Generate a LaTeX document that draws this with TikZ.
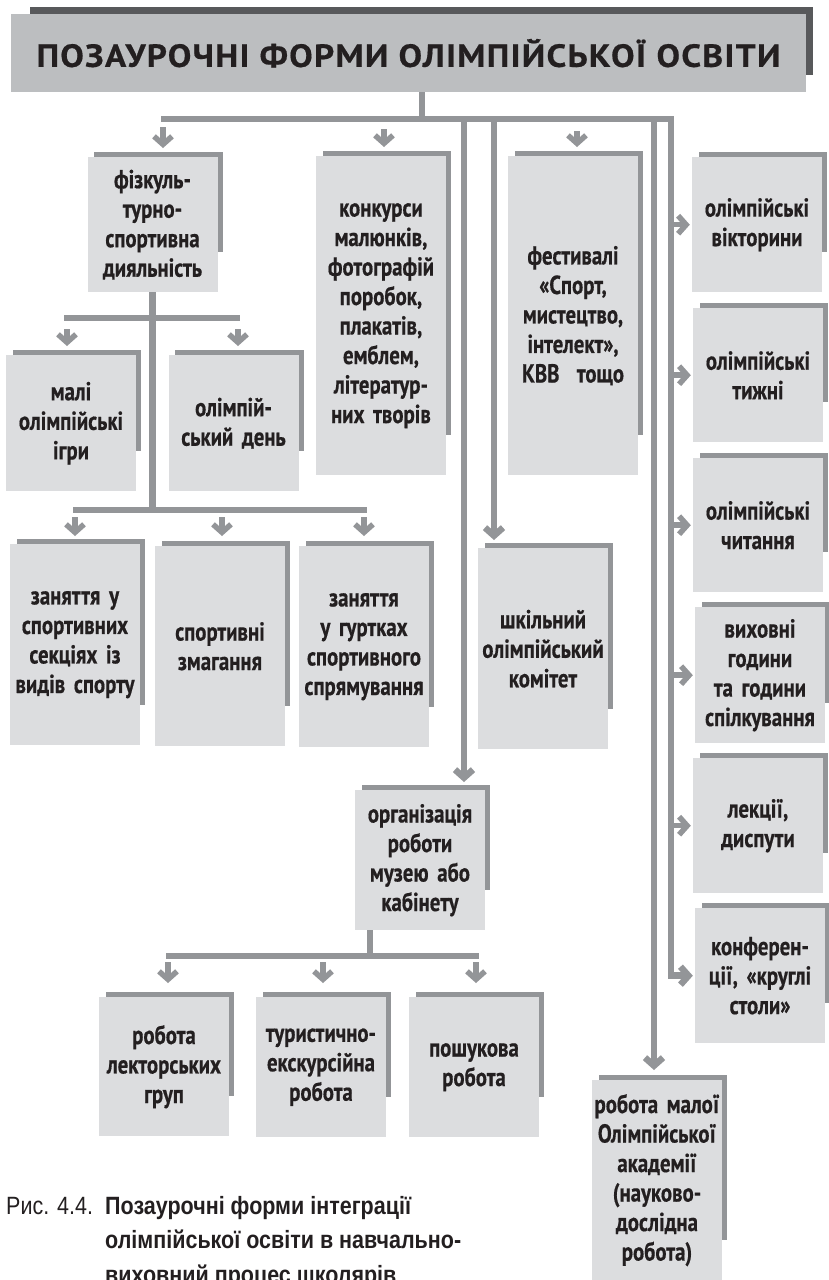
\documentclass[tikz,border=0pt]{standalone}
\usepackage{fontspec}
\newfontfamily\boxfont[FakeStretch=0.8,FakeBold=0.5]{PT Sans}
\newfontfamily\headfont[FakeStretch=1.1,LetterSpace=4,FakeBold=0.5]{PT Sans}
\newfontfamily\capfont[FakeStretch=0.86]{Liberation Sans}
\usetikzlibrary{arrows.meta,backgrounds}

\definecolor{linegray}{HTML}{939598}
\definecolor{boxgray}{HTML}{DCDDDF}
\definecolor{titlegray}{HTML}{BCBEC0}
\definecolor{titleshade}{HTML}{58595B}
\definecolor{inkgray}{HTML}{231F20}

\tikzset{
	form/.style={fill=boxgray, anchor=north, minimum width=130pt, text width=128pt, align=center, inner sep=0pt, text=inkgray, font=\boxfont\bfseries\fontsize{26}{29.5}\selectfont},
	link/.style={draw=linegray, line width=6.5pt},
	barb/.style={-{Straight Barb[length=8pt,width=18pt]}},
	tip/.style={draw=linegray, line width=5.5pt, barb},
	capline/.style={anchor=base west, inner sep=0pt, text=inkgray, font=\capfont\fontsize{25}{31}\selectfont},
}

\begin{document}
\begin{tikzpicture}[x=1pt,y=-1pt]
		\useasboundingbox (0,0) rectangle (829,1280);
		\node [fill=titlegray, anchor=north, minimum width=795pt, minimum height=78pt, text=inkgray, font=\headfont\bfseries\fontsize{32}{38}\selectfont](head) at (408.5,14) {ПОЗАУРОЧНІ ФОРМИ ОЛІМПІЙСЬКОЇ ОСВІТИ};

		% upper row
		\node [form, minimum height=135pt](fiz) at (152.5,157) {фізкуль-\\турно-\\спортивна\\дияльність};
		\node [form, minimum height=319pt](konk) at (381,156) {конкурси\\малюнків,\\фотографій\\поробок,\\плакатів,\\емблем,\\літератур-\\них творів};
		\node [form, minimum height=319pt](fest) at (573,156) {фестивалі\\«Спорт,\\мистецтво,\\інтелект»,\\КВВ\ \ тощо};

		% right column
		\node [form, minimum height=135pt](vikt) at (757,157) {олімпійські\\вікторини};
		\node [form, minimum height=134pt](tyzh) at (758,308) {олімпійські\\тижні};
		\node [form, minimum height=134pt](chyt) at (758,458) {олімпійські\\читання};
		\node [form, minimum height=136pt](vykh) at (760,607) {виховні\\години\\та години\\спілкування};
		\node [form, minimum height=135pt](lekc) at (758,758) {лекції,\\диспути};
		\node [form, minimum height=135pt](konf) at (760,908) {конферен-\\ції, «круглі\\столи»};

		% under fiz
		\node [form, minimum height=136pt](mali) at (71,355) {малі\\олімпійські\\ігри};
		\node [form, minimum height=136pt](den) at (233.5,355) {олімпій-\\ський день};
		\node [form, minimum height=201pt](sekc) at (75,544) {заняття у\\спортивних\\секціях із\\видів спорту};
		\node [form, minimum height=200pt](zmah) at (220,546) {спортивні\\змагання};
		\node [form, minimum height=201pt](hurt) at (364,546) {заняття\\у гуртках\\спортивного\\спрямування};

		\node [form, minimum height=201pt](shkil) at (543,548) {шкільний\\олімпійський\\комітет};
		\node [form, minimum height=140pt](org) at (420,790) {організація\\роботи\\музею або\\кабінету};
		\node [form, minimum height=139pt](lekt) at (164,997) {робота\\лекторських\\груп};
		\node [form, minimum height=140pt](tur) at (321,997) {туристично-\\екскурсійна\\робота};
		\node [form, minimum height=140pt](posh) at (474,997) {пошукова\\робота};
		\node [form, minimum height=200pt](akad) at (657,1080) {робота малої\\Олімпійської\\академії\\(науково-\\дослідна\\робота)};

		% shadows
		\begin{scope}[on background layer]
			\fill [titleshade]([shift={(19,-7)}]head.north west) rectangle ([shift={(7,-17)}]head.south east);
			\foreach \n in {fiz,konk,fest,vikt,tyzh,chyt,vykh,lekc,konf,mali,den,sekc,zmah,hurt,shkil,org,lekt,tur,posh,akad}
				\fill [linegray]([shift={(7,-5)}]\n.north west) rectangle ([shift={(5,-40)}]\n.south east);
		\end{scope}

		% main bus
		\coordinate (busL) at (161,119);
		\coordinate (busM) at (422,119);
		\coordinate (bend) at (671,119);
		\coordinate (b1) at (464,119);
		\coordinate (b2) at (494,119);
		\coordinate (b3) at (654,119);
		\draw [link](busM |- head.south) -- (busM);
		\draw [link, barb, shorten >=2pt](busL) -- (bend) |- (konf.west);
		\foreach \n in {vikt,tyzh,chyt,vykh,lekc}
			\draw [tip, shorten >=2pt](\n.west -| bend) -- (\n.west);
		\draw [link, barb, shorten >=8pt](b1) -- (b1 |- org.north);
		\draw [link, barb, shorten >=8pt](b2) -- (b2 |- shkil.north);
		\draw [link, barb, shorten >=10pt](b3) -- (b3 |- akad.north);
		\draw [tip](fiz.north) ++(10.5,-30) -- ++(0,21);
		\draw [tip](konk.north) ++(3,-27) -- ++(0,18);
		\draw [tip](fest.north) ++(4,-25) -- ++(0,16);

		% under fiz
		\coordinate (s1L) at (64,318);
		\coordinate (s1R) at (240,318);
		\coordinate (s2L) at (73,510);
		\coordinate (s2R) at (367,510);
		\draw [link](s1L) -- (s1R);
		\draw [link](s2L) -- (s2R);
		\draw [link](fiz.south) -- (fiz.south |- s2L);
		\draw [tip](mali.north) ++(-4,-26) -- ++(0,17);
		\draw [tip](den.north) ++(4.5,-26) -- ++(0,17);
		\draw [tip](sekc.north) ++(0,-27) -- ++(0,19);
		\draw [tip](zmah.north) ++(2,-29) -- ++(0,19);
		\draw [tip](hurt.north) ++(0,-29) -- ++(0,19);

		% under org
		\coordinate (s3L) at (166,956);
		\coordinate (s3M) at (370,956);
		\coordinate (s3R) at (479,956);
		\draw [link](s3L) -- (s3R);
		\draw [link](s3M |- org.south) -- (s3M);
		\draw [tip](lekt.north) ++(4,-35) -- ++(0,21);
		\draw [tip](tur.north) ++(2,-35) -- ++(0,21);
		\draw [tip](posh.north) ++(2,-35) -- ++(0,21);

		% caption
		\node [capline](fig) at (6,1214) {Рис. 4.4.};
		\node [capline, font=\capfont\bfseries\fontsize{25}{31}\selectfont](cap1) at (105,1214) {Позаурочні форми інтеграції};
		\node [capline, font=\capfont\bfseries\fontsize{25}{31}\selectfont](cap2) at (105,1248) {олімпійської освіти в навчально-};
		\node [capline, font=\capfont\bfseries\fontsize{25}{31}\selectfont](cap3) at (105,1283) {виховний процес школярів};
	\end{tikzpicture}
\end{document}
